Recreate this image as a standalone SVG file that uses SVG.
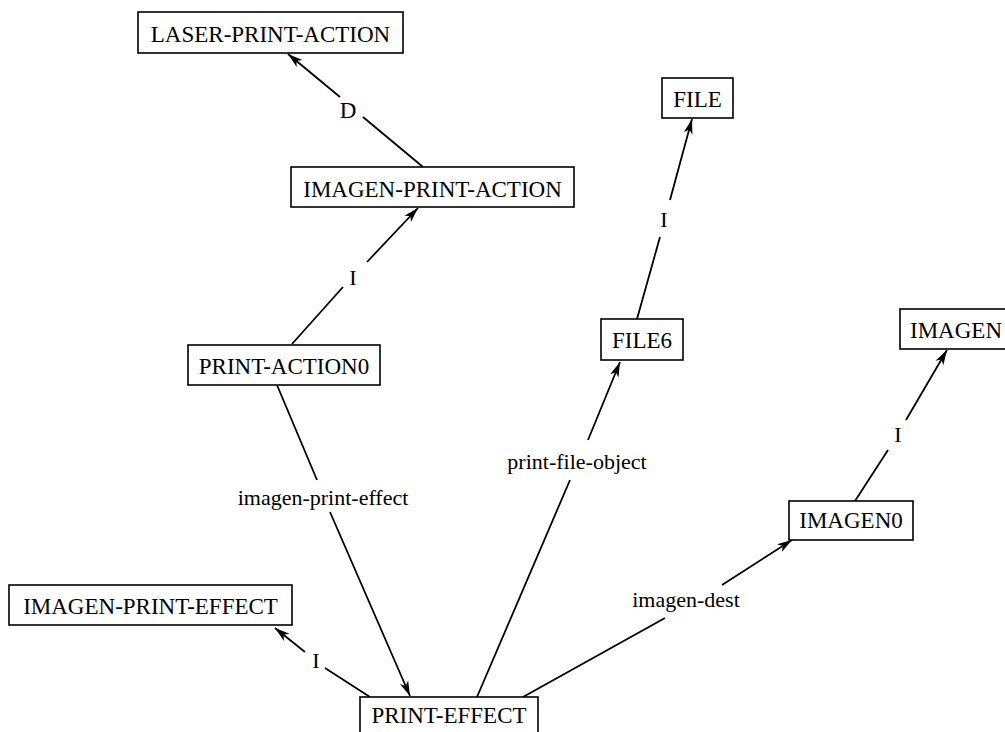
<svg xmlns="http://www.w3.org/2000/svg" width="1005" height="732" viewBox="0 0 1005 732">
<style>
.box{fill:#fff;stroke:#000;stroke-width:1.6}
.nt{font-family:"Liberation Serif","Times New Roman",serif;font-size:23px;fill:#000;text-anchor:middle}
.lt{font-family:"Liberation Serif","Times New Roman",serif;font-size:22px;fill:#000;text-anchor:middle}
.edge{fill:none;stroke:#000;stroke-width:1.8;marker-end:url(#ah)}
</style>
<defs>
<marker id="ah" markerWidth="16" markerHeight="12" refX="15" refY="5" orient="auto" markerUnits="userSpaceOnUse">
<path d="M0,0.5 L15,5 L0,9.5 L4,5 z" fill="#000"/>
</marker>
</defs>
<rect width="1005" height="732" fill="#fff"/>
<g id="connectors">
<path class="edge" d="M423,167 L363,117 M340,97 L288,54"/>
<path class="edge" d="M292,344 L343,287 M367,262 L418,208"/>
<path class="edge" d="M637,319 L660,237 M670,200 L692,119"/>
<path class="edge" d="M855,501 L888,450 M906,420 L947,350"/>
<path class="edge" d="M277,385 L317,480 M330,512 L410,696"/>
<path class="edge" d="M477,697 L570,480 M588,440 L620,362"/>
<path class="edge" d="M523,697 L665,618 M722,585 L792,540"/>
<path class="edge" d="M370,697 L325,668 M305,652 L275,628"/>
<g class="lt">
<text x="348" y="118" style="font-size:23px">D</text>
<text x="353" y="285">I</text>
<text x="664" y="227">I</text>
<text x="898" y="442">I</text>
<text x="316" y="668">I</text>
<text x="323" y="505">imagen-print-effect</text>
<text x="577" y="469">print-file-object</text>
<text x="686" y="607">imagen-dest</text>
</g>
</g>
<g id="laser-print-action"><rect class="box" x="138" y="12" width="265" height="41"/><text class="nt" x="270.5" y="42">LASER-PRINT-ACTION</text></g>
<g id="imagen-print-action"><rect class="box" x="291" y="167" width="283" height="40"/><text class="nt" x="432.5" y="197">IMAGEN-PRINT-ACTION</text></g>
<g id="file"><rect class="box" x="662" y="78" width="71" height="40"/><text class="nt" x="697.5" y="107">FILE</text></g>
<g id="file6"><rect class="box" x="601" y="319" width="82" height="41"/><text class="nt" x="642" y="348">FILE6</text></g>
<g id="imagen"><rect class="box" x="900" y="309" width="120" height="40"/><text class="nt" x="910" y="338" style="text-anchor:start">IMAGEN</text></g>
<g id="print-action0"><rect class="box" x="188" y="345" width="192" height="40"/><text class="nt" x="284" y="374">PRINT-ACTION0</text></g>
<g id="imagen0"><rect class="box" x="789" y="501" width="124" height="39"/><text class="nt" x="851" y="528">IMAGEN0</text></g>
<g id="imagen-print-effect"><rect class="box" x="9" y="585" width="283" height="40"/><text class="nt" x="150.5" y="614">IMAGEN-PRINT-EFFECT</text></g>
<g id="print-effect"><rect class="box" x="360" y="697" width="178" height="42"/><text class="nt" x="449" y="723">PRINT-EFFECT</text></g>
</svg>
